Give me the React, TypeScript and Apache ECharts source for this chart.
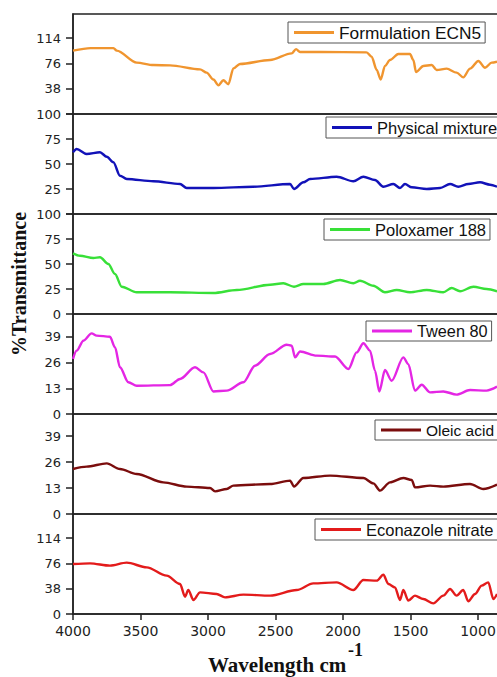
import React, { useEffect, useRef } from "react";
import * as echarts from "echarts";

// FTIR spectra, wavenumber (cm-1) vs %Transmittance, one panel per sample (top to bottom)
const seriesNames = [
  "Formulation ECN5",
  "Physical mixture",
  "Poloxamer 188",
  "Tween 80",
  "Oleic acid",
  "Econazole nitrate",
];
const seriesColors = ["#F0952F", "#1212B8", "#38E038", "#E426E4", "#7B0D0D", "#E31B1B"];

const ecn5Wn = [4000, 3870, 3700, 3676, 3528, 3405, 3281, 3059, 3010, 2960, 2923, 2886, 2849, 2812, 2763, 2540, 2380, 2348, 2318, 2170, 1825, 1788, 1750, 1721, 1689, 1652, 1590, 1504, 1479, 1459, 1405, 1343, 1306, 1232, 1158, 1109, 1059, 997, 948, 899, 859];
const ecn5T = [95, 98.8, 98.8, 95, 77, 73.4, 73, 67, 62, 51.7, 43, 50.7, 44.6, 68.4, 75, 81, 91, 97.3, 93, 93, 92.5, 86, 66, 51.7, 72, 81, 90, 90, 81, 63, 72, 73.4, 66, 68, 62, 55, 68, 79.5, 69.4, 77, 78.5];

const physWn = [4000, 3973, 3899, 3800, 3750, 3701, 3652, 3602, 3405, 3207, 3158, 3108, 2960, 2664, 2392, 2363, 2294, 2244, 2047, 1923, 1849, 1763, 1701, 1627, 1578, 1541, 1491, 1380, 1281, 1207, 1146, 1072, 985, 911, 859];
const physT = [61.7, 65, 60, 61.7, 57.3, 51.7, 38.3, 35, 32.7, 30, 26, 26, 26, 27.3, 30, 25, 31.7, 35, 37.3, 32.7, 37.3, 34, 27.3, 30, 26, 30, 26.7, 25, 26, 30, 27.3, 30, 31.7, 29.3, 27.3];

const poloxWn = [4000, 3948, 3849, 3800, 3738, 3689, 3639, 3528, 3281, 2960, 2787, 2540, 2442, 2363, 2294, 2146, 2022, 1923, 1874, 1775, 1689, 1602, 1504, 1380, 1257, 1195, 1133, 1034, 936, 859];
const poloxT = [60.7, 58.3, 56, 56.7, 50, 40, 27.3, 21.7, 21.7, 21, 24, 29.3, 30.7, 27.3, 30, 30, 34, 30.7, 33.3, 28.3, 21.7, 24, 21.7, 24, 21.7, 26, 22.7, 27.3, 25, 22.7];

const tweenWn = [4000, 3973, 3923, 3862, 3825, 3726, 3689, 3652, 3590, 3528, 3281, 3207, 3096, 3034, 2960, 2861, 2738, 2652, 2540, 2417, 2380, 2355, 2318, 2195, 2059, 1960, 1899, 1849, 1800, 1763, 1731, 1689, 1640, 1553, 1516, 1467, 1417, 1355, 1257, 1158, 1059, 936, 859];
const tweenT = [27.8, 32, 37, 40.7, 39.6, 39, 33.7, 23.6, 16, 14.3, 14.6, 17.7, 23.6, 21, 11.4, 11.8, 16, 24.4, 30.3, 35, 34.5, 28.6, 31.6, 29.5, 29, 22.7, 31.1, 35.7, 32, 21.9, 11.4, 22.2, 16.8, 28.6, 25.2, 11.8, 14.8, 10.9, 11.4, 9.8, 12.1, 11.8, 13.8];

const oleicWn = [4000, 3899, 3750, 3652, 3528, 3331, 3158, 2985, 2948, 2861, 2812, 2540, 2392, 2363, 2294, 2096, 1849, 1775, 1726, 1652, 1553, 1491, 1467, 1355, 1257, 1059, 961, 859];
const oleicT = [22.5, 23.7, 25.3, 22.5, 20, 15.8, 13.7, 13, 11.3, 12.5, 14.2, 15, 16.7, 13.7, 18, 19.2, 18, 15.3, 11.7, 15.8, 18, 17, 13.3, 14.2, 13.7, 15, 12.5, 14.7];

const econWn = [4000, 3874, 3726, 3602, 3454, 3306, 3207, 3170, 3146, 3108, 3059, 2936, 2874, 2738, 2540, 2343, 2220, 2047, 1923, 1849, 1750, 1701, 1664, 1615, 1578, 1553, 1516, 1467, 1405, 1331, 1257, 1207, 1158, 1109, 1072, 1022, 973, 924, 886, 859];
const econT = [75, 76, 72.5, 77, 70, 57.5, 45, 26, 36, 21, 32.5, 30, 25, 29, 27.5, 36, 46, 47.5, 36, 51, 50, 59, 45, 40, 21, 36, 20, 27.5, 22.5, 16, 27.5, 37.5, 27.5, 36, 19, 30, 42.5, 47.5, 22.5, 30];

// y-axis ranges, tick positions and labelled ticks per panel
const yMax = [150, 100, 100, 50.5, 50, 150];
const yStep = [38, 25, 25, 13, 13, 38];
const yTicks = [
  [0, 38, 76, 114],
  [0, 25, 50, 75, 100],
  [0, 25, 50, 75, 100],
  [0, 13, 26, 39],
  [0, 13, 26, 39],
  [0, 38, 76, 114],
];
const yLabels = [
  [38, 76, 114],
  [25, 50, 75, 100],
  [0, 25, 50, 75, 100],
  [0, 13, 26, 39],
  [0, 13, 26, 39],
  [0, 38, 76, 114],
];

const xTickLabels = [4000, 3500, 3000, 2500, 2000, 1500, 1000];

const wnSets = [ecn5Wn, physWn, poloxWn, tweenWn, oleicWn, econWn];
const tSets = [ecn5T, physT, poloxT, tweenT, oleicT, econT];

// legend box placement and font size per panel
const legendLeft = [288, 326, 324, 366, 375, 315];
const legendTop = [22, 117, 219, 321, 420, 519];
const legendFont = [17.3, 16.5, 16.5, 16.3, 15.5, 16.5];

const CHART_W = 560;
const CHART_H = 677;
const PLOT_LEFT = 73;
const PLOT_RIGHT = 14.5;
const PANEL_TOP = 14;
const PANEL_H = 100;

export default function App() {
  const ref = useRef<HTMLDivElement>(null);

  useEffect(() => {
    if (!ref.current) return;
    const chart = echarts.init(ref.current, undefined, { renderer: "svg" });

    const grids = seriesNames.map((_, i) => ({
      left: PLOT_LEFT,
      right: PLOT_RIGHT,
      top: PANEL_TOP + i * PANEL_H,
      height: PANEL_H,
      show: true,
      borderColor: "#222",
      borderWidth: 1.5,
      backgroundColor: "transparent",
    }));

    const last = seriesNames.length - 1;
    const xAxes = seriesNames.map((_, i) => ({
      type: "value",
      gridIndex: i,
      min: 500,
      max: 4000,
      interval: 500,
      inverse: true,
      splitLine: { show: false },
      axisLine: { show: i === last, lineStyle: { color: "#222", width: 1.5 } },
      axisTick: {
        show: i === last,
        inside: false,
        length: 6,
        lineStyle: { color: "#222", width: 1.5 },
      },
      axisLabel: {
        show: i === last,
        margin: 10,
        color: "#222",
        fontFamily: "DejaVu Sans",
        fontSize: 14,
        customValues: xTickLabels,
        formatter: (v: number) => String(v),
      },
    }));

    const yAxes = seriesNames.map((_, i) => ({
      type: "value",
      gridIndex: i,
      min: 0,
      max: yMax[i],
      interval: yStep[i],
      splitLine: { show: false },
      axisLine: { show: true, lineStyle: { color: "#222", width: 1.5 } },
      axisTick: {
        show: true,
        inside: false,
        length: 7,
        lineStyle: { color: "#222", width: 1.5 },
        customValues: yTicks[i],
      },
      axisLabel: {
        margin: 12,
        color: "#222",
        fontFamily: "DejaVu Sans",
        fontSize: 13,
        customValues: yLabels[i],
        formatter: (v: number) => String(v),
      },
    }));

    const series = seriesNames.map((name, i) => ({
      name,
      type: "line",
      xAxisIndex: i,
      yAxisIndex: i,
      data: wnSets[i].map((w, k) => [w, tSets[i][k]]),
      symbol: "none",
      showSymbol: false,
      smooth: 0.3,
      smoothMonotone: "x",
      lineStyle: { color: seriesColors[i], width: 2.4 },
      itemStyle: { color: seriesColors[i] },
    }));

    const legends = seriesNames.map((name, i) => ({
      data: [name],
      left: legendLeft[i],
      top: legendTop[i],
      orient: "horizontal",
      icon: "rect",
      itemWidth: 40,
      itemHeight: 3,
      padding: [2, 4, 2, 6],
      borderColor: "#555",
      borderWidth: 1,
      backgroundColor: "#fff",
      selectedMode: false,
      textStyle: {
        color: "#111",
        fontFamily: "Liberation Sans",
        fontSize: legendFont[i],
        lineHeight: 16,
      },
    }));

    chart.setOption({
      animation: false,
      backgroundColor: "#fff",
      grid: grids,
      xAxis: xAxes,
      yAxis: yAxes,
      series,
      legend: legends,
      graphic: [
        {
          type: "text",
          x: 19,
          y: 284,
          rotation: Math.PI / 2,
          style: {
            text: "%Transmittance",
            fill: "#111",
            font: "bold 20px 'Liberation Serif'",
            align: "center",
            verticalAlign: "middle",
          },
        },
        {
          type: "text",
          x: 208,
          y: 654,
          style: {
            text: "Wavelength cm",
            fill: "#111",
            font: "bold 21px 'Liberation Serif'",
            align: "left",
            verticalAlign: "top",
          },
        },
        {
          type: "text",
          x: 348,
          y: 641,
          style: {
            text: "-1",
            fill: "#111",
            font: "bold 18px 'Liberation Serif'",
            align: "left",
            verticalAlign: "top",
          },
        },
      ],
    });

    return () => chart.dispose();
  }, []);

  return (
    <div
      style={{
        position: "absolute",
        left: 0,
        top: 0,
        width: 497,
        height: CHART_H,
        overflow: "hidden",
        background: "#fff",
      }}
    >
      <div ref={ref} style={{ width: CHART_W, height: CHART_H }} />
    </div>
  );
}
